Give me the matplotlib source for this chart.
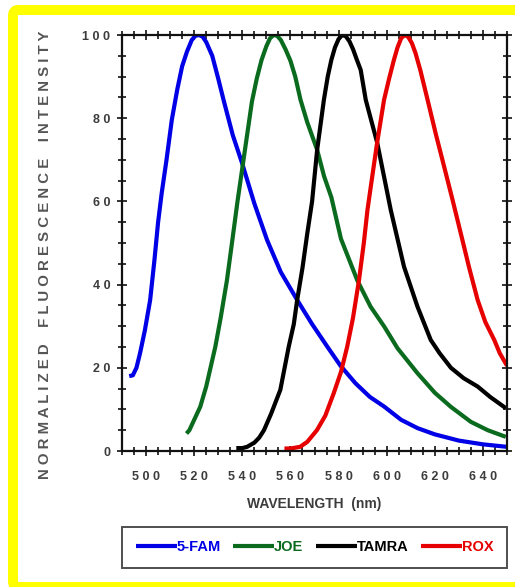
import numpy as np
import matplotlib
matplotlib.use('Agg')
import matplotlib.pyplot as plt
from matplotlib.patches import FancyBboxPatch
from matplotlib.ticker import MultipleLocator, FuncFormatter

# emission spectra (wavelength nm, normalized intensity)
fam_wl = [493.0, 494.5, 496, 497.5, 499.5, 501.7, 503.5, 505, 506.5, 508.5, 510.7, 513, 515, 517,
          519, 520.5, 522, 523.5, 525, 527.5, 530, 532.2, 536, 539.9, 545, 550.3, 556, 562.8, 569,
          575.3, 580.8, 587, 593, 598.9, 606, 612.8, 620, 630, 640, 650]
fam_val = [18.0, 18.2, 20, 23.5, 29, 36.3, 46, 55, 62, 70, 79.6, 87, 92.5, 96,
           98.8, 99.8, 100, 99.6, 98.3, 95, 89.5, 84.4, 76, 69.2, 59.5, 50.7, 43, 36.3, 30.5,
           25.1, 20.5, 16.3, 13, 10.7, 7.5, 5.5, 4, 2.5, 1.6, 1.0]

joe_wl = [516.8, 518, 520, 522.5, 525, 528.8, 531, 533.6, 535.7, 538, 540, 542, 544, 546, 548, 550,
          551.5, 553, 554.5, 556, 558, 560, 562, 564.2, 567, 571.1, 574, 577, 581, 587.8, 593.3,
          599, 604.5, 612.8, 620, 626.7, 635, 642, 649.5]
joe_val = [4.2, 5, 7.5, 10.6, 15.5, 25.1, 32, 41, 50, 60, 68, 76, 84, 89.5, 94, 97.3,
           99.2, 100, 99.8, 98.8, 96.5, 93.8, 90, 84.4, 79, 72.4, 66, 61, 51, 41, 34.7,
           29.9, 24.7, 18.7, 14, 10.6, 7, 5, 3.4]

tamra_wl = [537.5, 540, 542, 545, 547, 549, 552, 555.8, 559.3, 561.4, 562.8, 565, 567, 569, 571.1,
            573.9, 575.5, 577, 578.5, 580, 581.5, 583, 584.5, 586, 587.5, 589.2, 591.3, 596.1,
            601.7, 607.2, 612.8, 618.3, 622, 626.7, 632, 637.8, 643, 649.5]
tamra_val = [0.7, 0.7, 1, 2, 3.2, 5, 9, 14.7, 25.1, 30.5, 36.3, 44, 52.3, 60, 72.4,
             84.4, 90, 94, 97, 99, 100, 99.7, 98.5, 96.6, 94.2, 91.6, 84.4, 74,
             57.9, 44.3, 34.7, 26.7, 23.5, 20, 17.5, 15.5, 13, 10.3]

rox_wl = [557.5, 560, 564, 567, 571, 574.5, 578, 581, 583.6, 586, 588.5, 590.5, 592, 594, 596,
          598.9, 601, 603, 604.5, 606, 607.5, 609, 610.5, 612, 614, 617, 620.5, 623.9, 627.4,
          630.8, 634.3, 637.8, 641, 644.7, 647, 650]
rox_val = [0.6, 0.6, 1, 2.2, 5, 8.5, 13.9, 19, 25.1, 32, 41.1, 50, 57.9, 66, 74,
           84.4, 89.5, 94, 97, 99.2, 100, 99.5, 98, 95.6, 91.5, 84.4, 76, 68.3, 60.3,
           52.3, 44, 36.3, 31, 26.7, 23.5, 20.5]

dyes = ['5-FAM', 'JOE', 'TAMRA', 'ROX']
colors = ['#0000e6', '#0a6b1e', '#000000', '#e60000']
x_ticks = [500, 520, 540, 560, 580, 600, 620, 640]
y_ticks = [0, 20, 40, 60, 80, 100]

txt = '#3c3c3c'
plt.rcParams['font.family'] = ['Liberation Sans', 'DejaVu Sans']

W, H = 515, 587
fig = plt.figure(figsize=(W / 100, H / 100), dpi=100)

# yellow frame (right and bottom edges are cut off in the original)
frame = FancyBboxPatch((13 / W, 0), 1.2, 1 - 10 / H,
                       boxstyle='round,pad=0,rounding_size=0.01',
                       transform=fig.transFigure, facecolor='white',
                       edgecolor='#ffff00', linewidth=7.2, zorder=-5)
fig.patches.append(frame)

ax = fig.add_axes([122 / W, 1 - 451 / H, 385 / W, 416 / H])
ax.patch.set_alpha(0)
series = [(fam_wl, fam_val), (joe_wl, joe_val), (tamra_wl, tamra_val), (rox_wl, rox_val)]
for (wl, val), name, c in zip(series, dyes, colors):
    ax.plot(wl, val, color=c, lw=3.0, solid_capstyle='butt', solid_joinstyle='round', label=name)

ax.set_xlim(490, 650)
ax.set_ylim(0, 100)
ax.set_xticks(x_ticks)
ax.set_yticks(y_ticks)
ax.xaxis.set_minor_locator(MultipleLocator(5))
ax.yaxis.set_minor_locator(MultipleLocator(5))
spaced = FuncFormatter(lambda v, p: ' '.join(str(int(round(v)))))
ax.xaxis.set_major_formatter(spaced)
ax.yaxis.set_major_formatter(spaced)
ax.tick_params(which='both', direction='inout', top=True, right=True, width=1.2, color='#111111')
ax.tick_params(which='major', length=7)
ax.tick_params(which='minor', length=6)
ax.tick_params(axis='both', labelsize=9, labelcolor=txt)
ax.tick_params(axis='x', pad=11)
ax.tick_params(axis='y', pad=5)
for lab in ax.get_xticklabels() + ax.get_yticklabels():
    lab.set_fontweight('bold')
for s in ax.spines.values():
    s.set_linewidth(1.6)
    s.set_color('#111111')

ax.set_xlabel('WAVELENGTH  (nm)', fontsize=10, fontweight='bold', color=txt, labelpad=10)
ylab = '    '.join(' '.join(w) for w in ['NORMALIZED', 'FLUORESCENCE', 'INTENSITY'])
fig.text(45 / W, 1 - 255 / H, ylab, rotation=90, ha='center', va='center',
         fontsize=10.8, fontweight='bold', color='#555555')

# legend box spans the plot width, below the x label
leg = ax.legend(loc='center', bbox_to_anchor=(0.0, -0.281, 1.0, 0.0986), mode='expand',
                ncol=4, frameon=True, fancybox=False, edgecolor='#222222',
                handlelength=2.8, handletextpad=0.0, borderpad=0.95, borderaxespad=0,
                prop={'size': 10.5, 'weight': 'bold'})
leg.get_frame().set_linewidth(1.4)
for t, c in zip(leg.get_texts(), colors):
    t.set_color(c)

fig.savefig('out.png', dpi=100, facecolor='white')
